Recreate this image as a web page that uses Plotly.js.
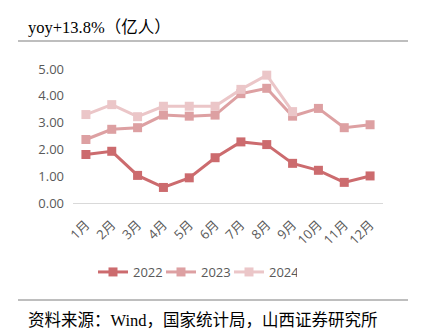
<!DOCTYPE html>
<html>
<head>
<meta charset="utf-8">
<script src="https://cdn.plot.ly/plotly-3.0.1.min.js"></script>
<style>html,body{margin:0;padding:0;background:#fff;}#chart{width:424px;height:334px;}</style>
</head>
<body>
<div id="chart"></div>
<script>
var months = ["1月","2月","3月","4月","5月","6月","7月","8月","9月","10月","11月","12月"];
var v2022 = [1.81,1.93,1.03,0.58,0.94,1.69,2.28,2.18,1.48,1.22,0.77,1.01];
var v2023 = [2.37,2.75,2.81,3.28,3.24,3.28,4.08,4.28,3.24,3.53,2.81,2.92];
var v2024 = [3.30,3.67,3.22,3.61,3.61,3.61,4.24,4.77,3.41];
var seriesNames = ["2022","2023","2024"];
var colors = ["#CC6B6E","#DDA0A2","#EBC6C8"];

var pxL = 73, pxR = 383, pxT = 69, pxB = 203;
function px2x(p){ return (p - pxL) / (pxR - pxL); }
function py2y(p){ return (pxB - p) / (pxB - pxT); }

function tr(name, vals, color){
  return {
    type: "scatter", mode: "lines+markers", name: name,
    x: months.slice(0, vals.length), y: vals,
    line: {color: color, width: 3},
    marker: {symbol: "square", size: 9, color: color}
  };
}
var data = [tr(seriesNames[0], v2022, colors[0]), tr(seriesNames[1], v2023, colors[1]), tr(seriesNames[2], v2024, colors[2])];

var tickFont = {family: "Open Sans, Liberation Sans, Noto Sans CJK SC, sans-serif", size: 13, color: "#595959"};
var layout = {
  width: 424, height: 334,
  margin: {l: pxL, r: 424 - pxR, t: pxT, b: 334 - pxB},
  paper_bgcolor: "#ffffff", plot_bgcolor: "#ffffff",
  showlegend: true,
  legend: {orientation: "h", x: px2x(195), xanchor: "center", y: py2y(272), yanchor: "middle",
    font: tickFont, traceorder: "normal", entrywidth: 23, entrywidthmode: "pixels", tracegroupgap: 0},
  xaxis: {type: "category", categoryorder: "array", categoryarray: months, range: [-0.5, 11.5],
    showgrid: false, zeroline: false, showline: true, linecolor: "#D9D9D9", linewidth: 1,
    ticks: "", tickangle: -45, tickfont: tickFont, ticklabelstandoff: 8},
  yaxis: {range: [0, 5], tickvals: [0,1,2,3,4,5], tickformat: ".2f", showgrid: false, zeroline: false,
    showline: false, ticks: "", tickfont: tickFont, ticklabelstandoff: 8},
  shapes: [
    {type: "line", xref: "paper", yref: "paper", x0: px2x(18), x1: px2x(408), y0: py2y(41), y1: py2y(41), line: {color: "#7F7F7F", width: 1.2}},
    {type: "line", xref: "paper", yref: "paper", x0: px2x(18), x1: px2x(408), y0: py2y(300), y1: py2y(300), line: {color: "#7F7F7F", width: 1.2}}
  ],
  annotations: [
    {xref: "paper", yref: "paper", x: px2x(26), y: py2y(27), xanchor: "left", yanchor: "middle", showarrow: false,
     text: "yoy+13.8%（亿人）", font: {family: "Liberation Serif, Noto Sans CJK SC, serif", size: 16.5, color: "#000000"}},
    {xref: "paper", yref: "paper", x: px2x(26), y: py2y(320), xanchor: "left", yanchor: "middle", showarrow: false,
     text: "资料来源：Wind，国家统计局，山西证券研究所", font: {family: "Liberation Serif, Noto Sans CJK SC, serif", size: 16.5, color: "#000000"}}
  ]
};
Plotly.newPlot("chart", data, layout, {staticPlot: true, displayModeBar: false});
</script>
</body>
</html>
